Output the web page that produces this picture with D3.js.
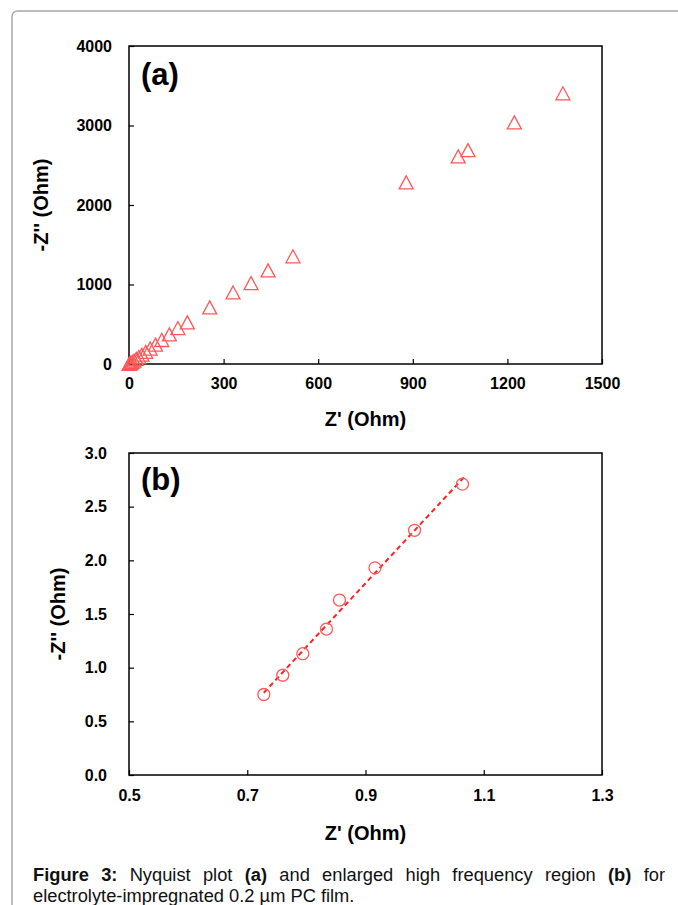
<!DOCTYPE html>
<html>
<head>
<meta charset="utf-8">
<script src="https://cdn.jsdelivr.net/npm/d3@7"></script>
<style>
  html, body { margin: 0; padding: 0; background: #fff; }
  svg { display: block; }
  text { font-family: "Liberation Sans", Arial, sans-serif; }
</style>
</head>
<body>
<svg id="fig" width="678" height="905"></svg>
<script>
// Panel (a): full Nyquist plot, Z' and -Z'' in Ohm
const nyquistZre = [1376, 1222, 1075, 1044, 879, 520, 441, 387, 330, 256, 185, 155,
                    128, 104, 84, 67, 53, 41, 31, 23, 16, 10, 6, 3, 1.07, 0.73];
const nyquistZim = [3405, 3040, 2690, 2612, 2285, 1355, 1178, 1018, 900, 712, 523, 452,
                    372, 302, 243, 194, 152, 117, 88, 64, 44, 28, 16, 8, 2.71, 0.75];
// Panel (b): enlarged high-frequency region
const hfZre = [0.728, 0.760, 0.794, 0.834, 0.856, 0.916, 0.983, 1.064];
const hfZim = [0.75, 0.93, 1.13, 1.36, 1.63, 1.93, 2.28, 2.71];

const ticksAx = [0, 300, 600, 900, 1200, 1500];
const ticksAy = [0, 1000, 2000, 3000, 4000];
const ticksBx = [0.5, 0.7, 0.9, 1.1, 1.3];
const ticksBy = [0, 0.5, 1.0, 1.5, 2.0, 2.5, 3.0];

const FONT = '"Liberation Sans", Arial, sans-serif';
const MARK = "#ff5858";
const svg = d3.select("#fig");

// Page frame with a rounded top-left corner
svg.append("path")
  .attr("d", "M12,910 L12,17 Q12,11 18,11 L690,11")
  .attr("fill", "none").attr("stroke", "#a8a8a8").attr("stroke-width", 1.5);

function panel(opts) {
  const g = svg.append("g");
  const { x, y } = opts;
  const [x0, x1] = x.range(), [y0, y1] = y.range();

  g.append("g").attr("transform", `translate(0,${y0})`)
    .call(d3.axisBottom(x).tickValues(opts.xt).tickFormat(opts.xf)
      .tickSizeInner(-5).tickSizeOuter(0).tickPadding(opts.xpad))
    .call(s => s.select(".domain").remove())
    .call(s => s.selectAll("line").attr("stroke", "#000").attr("stroke-width", 1.2))
    .call(s => s.selectAll("text").attr("font-family", FONT).attr("font-size", 16)
      .attr("font-weight", "bold").attr("fill", "#000"));

  g.append("g").attr("transform", `translate(${x0},0)`)
    .call(d3.axisLeft(y).tickValues(opts.yt).tickFormat(opts.yf)
      .tickSizeInner(-5).tickSizeOuter(0).tickPadding(opts.ypad))
    .call(s => s.select(".domain").remove())
    .call(s => s.selectAll("line").attr("stroke", "#000").attr("stroke-width", 1.2))
    .call(s => s.selectAll("text").attr("font-family", FONT).attr("font-size", 16)
      .attr("font-weight", "bold").attr("fill", "#000"));

  g.append("rect")
    .attr("x", x0).attr("y", y1).attr("width", x1 - x0).attr("height", y0 - y1)
    .attr("fill", "none").attr("stroke", "#000").attr("stroke-width", 1.5);

  g.append("text").attr("x", x0 + 12).attr("y", opts.tagY)
    .attr("font-size", 31).attr("font-weight", "bold").text(opts.tag);

  g.append("text").attr("x", (x0 + x1) / 2).attr("y", opts.xtY)
    .attr("text-anchor", "middle").attr("font-size", 20).attr("font-weight", "bold")
    .text("Z' (Ohm)");

  g.append("text")
    .attr("transform", `translate(${opts.ytX},${(y0 + y1) / 2}) rotate(-90)`)
    .attr("text-anchor", "middle").attr("dy", "0.35em")
    .attr("font-size", 20).attr("font-weight", "bold")
    .text("-Z'' (Ohm)");
  return g;
}

// ---- Panel (a)
const xA = d3.scaleLinear().domain([0, 1500]).range([129, 602]);
const yA = d3.scaleLinear().domain([0, 4000]).range([364, 46]);
const gA = panel({ x: xA, y: yA, xt: ticksAx, yt: ticksAy,
  xf: d3.format("d"), yf: d3.format("d"), xpad: 14, ypad: 17,
  tag: "(a)", tagY: 85, xtY: 426, ytX: 41 });

const tri = (cx, cy) => {
  const p = d3.path(), w = 7, h = 6.5;
  p.moveTo(cx, cy - h); p.lineTo(cx + w, cy + h); p.lineTo(cx - w, cy + h); p.closePath();
  return p.toString();
};
gA.append("g").selectAll("path")
  .data(d3.zip(nyquistZre, nyquistZim))
  .join("path")
  .attr("d", d => tri(xA(d[0]), yA(d[1])))
  .attr("fill", "none").attr("stroke", MARK).attr("stroke-width", 1.3);

// ---- Panel (b)
const xB = d3.scaleLinear().domain([0.5, 1.3]).range([129, 602]);
const yB = d3.scaleLinear().domain([0, 3]).range([775, 453]);
const gB = panel({ x: xB, y: yB, xt: ticksBx, yt: ticksBy,
  xf: d3.format(".1f"), yf: d3.format(".1f"), xpad: 15, ypad: 22,
  tag: "(b)", tagY: 490, xtY: 840, ytX: 58 });

// Least-squares trend line through the high-frequency points
const mx = d3.mean(hfZre), my = d3.mean(hfZim);
const slope = d3.sum(hfZre, (v, i) => (v - mx) * (hfZim[i] - my)) /
              d3.sum(hfZre, v => (v - mx) ** 2);
const icpt = my - slope * mx;
const [lx0, lx1] = d3.extent(hfZre);
gB.append("line")
  .attr("x1", xB(lx0)).attr("y1", yB(icpt + slope * lx0))
  .attr("x2", xB(lx1 + 0.005)).attr("y2", yB(icpt + slope * (lx1 + 0.005)))
  .attr("stroke", "#ff2020").attr("stroke-width", 2).attr("stroke-dasharray", "5,3.5");

gB.append("g").selectAll("circle")
  .data(d3.zip(hfZre, hfZim))
  .join("circle")
  .attr("cx", d => xB(d[0])).attr("cy", d => yB(d[1])).attr("r", 6)
  .attr("fill", "none").attr("stroke", MARK).attr("stroke-width", 1.3);

// ---- Caption (first line justified)
const capLeft = 33, capRight = 665, capSize = 18.3;
const line1 = [["Figure", 1], ["3:", 1], ["Nyquist", 0], ["plot", 0], ["(a)", 1], ["and", 0],
  ["enlarged", 0], ["high", 0], ["frequency", 0], ["region", 0], ["(b)", 1], ["for", 0]];
const cap = svg.append("g").attr("font-size", capSize).attr("fill", "#111");
const words = cap.selectAll("text.w").data(line1).join("text").attr("class", "w")
  .attr("y", 881).attr("font-weight", d => d[1] ? "bold" : "normal").text(d => d[0]);
const widths = [];
words.each(function () { widths.push(this.getComputedTextLength()); });
const gap = (capRight - capLeft - d3.sum(widths)) / (line1.length - 1);
let cx = capLeft;
words.attr("x", (d, i) => { const v = cx; cx += widths[i] + gap; return v; });
cap.append("text").attr("x", capLeft).attr("y", 902)
  .text("electrolyte-impregnated 0.2 µm PC film.");
</script>
</body>
</html>
